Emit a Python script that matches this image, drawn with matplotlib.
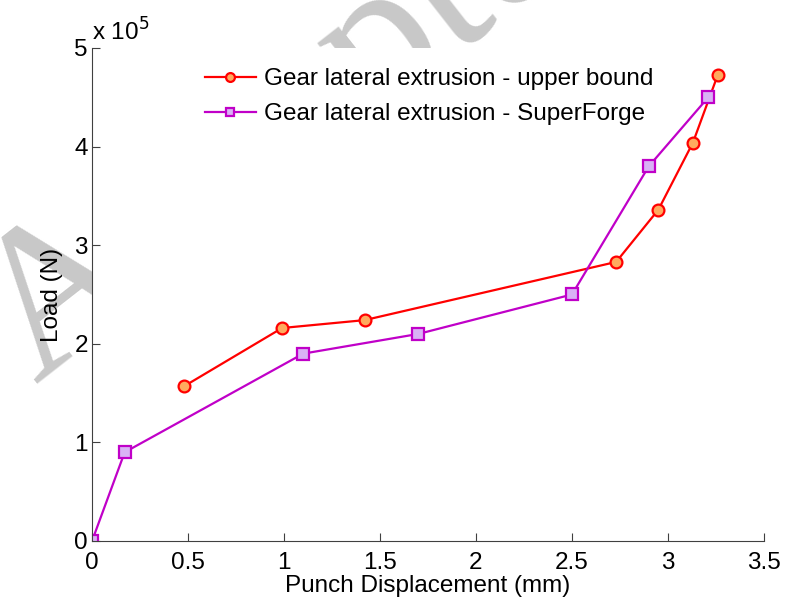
import matplotlib
matplotlib.use('Agg')
import matplotlib.pyplot as plt

plt.rcParams['font.family'] = ['Liberation Sans', 'DejaVu Sans']

# --- Daten ---
x_ub = [0.48, 0.99, 1.42, 2.73, 2.95, 3.13, 3.26]
y_ub = [1.57e5, 2.16e5, 2.24e5, 2.83e5, 3.36e5, 4.04e5, 4.73e5]

x_sf = [0.0, 0.17, 1.10, 1.70, 2.50, 2.90, 3.21]
y_sf = [0.0, 0.90e5, 1.90e5, 2.10e5, 2.50e5, 3.80e5, 4.50e5]

label_ub = 'Gear lateral extrusion - upper bound'
label_sf = 'Gear lateral extrusion - SuperForge'

FS = 17.5

# --- Figur ---
fig = plt.figure(figsize=(7.88, 6.05), dpi=100)
fig.patch.set_facecolor('white')

# Wasserzeichen hinter den Achsen (nur am Rand sichtbar)
fig.text(0.045, 0.365, 'Accepted Manuscript', fontsize=150, color='#c8c8c8',
         family='Liberation Serif', rotation=38, rotation_mode='anchor',
         ha='left', va='baseline', zorder=0)

ax = fig.add_axes([0.1168, 0.1058, 0.8527, 0.8149], zorder=1)
ax.set_facecolor('white')

ax.plot(x_ub, y_ub, '-o', color='#ff0000', lw=1.6, ms=8.5,
        mfc='#ffaa5e', mec='#ff0000', mew=1.6, label=label_ub)
ax.plot(x_sf, y_sf, '-s', color='#c000c8', lw=1.6, ms=8,
        mfc='#d9b2f5', mec='#c000c8', mew=1.6, label=label_sf)

ax.set_xlim(0, 3.5)
ax.set_ylim(0, 5e5)
ax.set_xticks([0, 0.5, 1, 1.5, 2, 2.5, 3, 3.5])
ax.set_xticklabels(['0', '0.5', '1', '1.5', '2', '2.5', '3', '3.5'])
ax.set_yticks([0, 1e5, 2e5, 3e5, 4e5, 5e5])
ax.set_yticklabels(['0', '1', '2', '3', '4', '5'])

for side in ['top', 'right']:
    ax.spines[side].set_visible(False)
for side in ['left', 'bottom']:
    ax.spines[side].set_color('#404040')
    ax.spines[side].set_linewidth(0.8)

ax.tick_params(direction='in', length=6, width=0.8, color='#404040',
               labelsize=FS)
ax.tick_params(axis='x', pad=8)
ax.tick_params(axis='y', pad=3)

ax.set_xlabel('Punch Displacement (mm)', fontsize=FS, labelpad=1)
ax.set_ylabel('Load (N)', fontsize=FS, labelpad=8)

ax.text(0.0, 1.005, r'x 10$^{5}$', transform=ax.transAxes, fontsize=FS,
        ha='left', va='bottom')

ax.legend(loc='upper left', bbox_to_anchor=(0.153, 0.979), frameon=False,
          fontsize=FS, handlelength=2.1, handletextpad=0.35,
          labelspacing=0.55, borderaxespad=0, markerscale=0.75)

fig.savefig('out.png', dpi=100, facecolor='white')
